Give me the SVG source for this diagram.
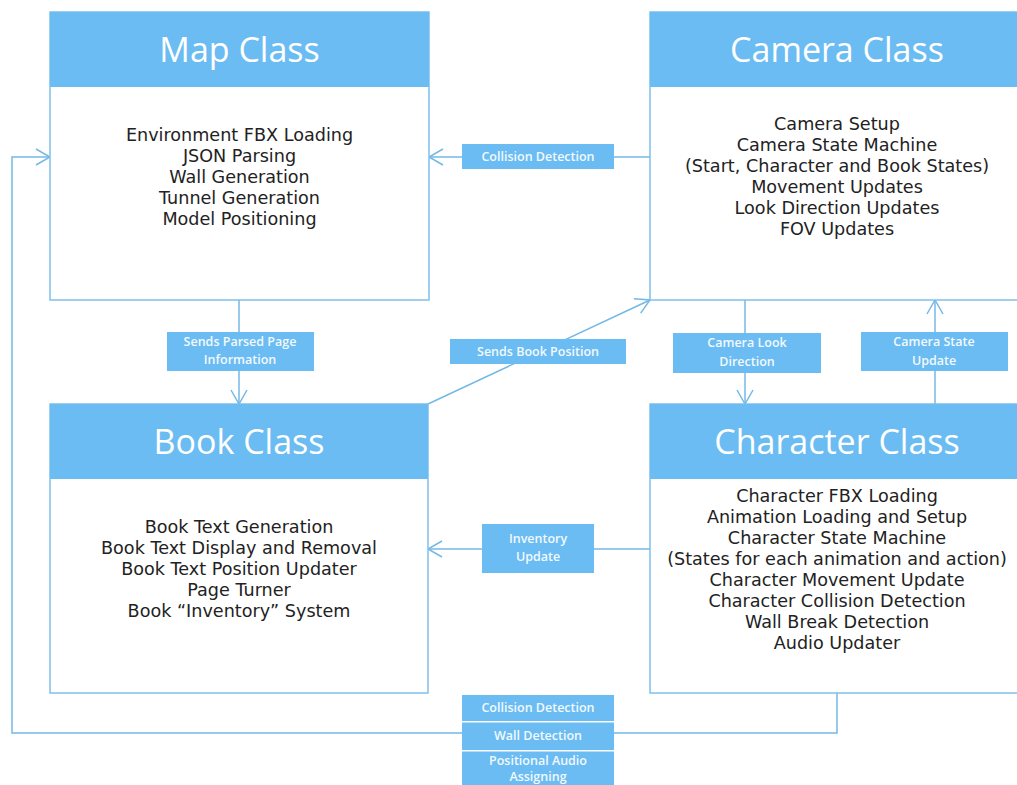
<svg xmlns="http://www.w3.org/2000/svg" width="1017" height="785" viewBox="0 0 1017 785">
<style>
.box{fill:#ffffff;stroke:#80c0ea;stroke-width:1.5}
.hdr{fill:#6bbcf2}
.title{font-family:"Open Sans","Noto Sans",sans-serif;font-size:34px;fill:#ffffff;text-anchor:middle}
.body{font-family:"DejaVu Sans","Noto Sans",sans-serif;font-size:17.6px;fill:#222222;text-anchor:middle}
.conn{fill:none;stroke:#74b8e6;stroke-width:1.5}
.lbl{fill:#6bbcf2}
.lt{font-family:"Open Sans","Noto Sans",sans-serif;font-size:12.5px;font-weight:600;fill:#f2f9ff;text-anchor:middle}
</style>
<defs>
<marker id="arr" markerUnits="userSpaceOnUse" markerWidth="18" markerHeight="18" refX="15" refY="9" orient="auto">
<path d="M1,1 L15,9 L1,17" fill="none" stroke="#74b8e6" stroke-width="1.5"/>
</marker>
</defs>
<rect width="1017" height="785" fill="#ffffff"/>
<g id="connectors">
<line class="conn" x1="614" y1="157" x2="429" y2="157" marker-end="url(#arr)"/>
<line class="conn" x1="650" y1="157" x2="614" y2="157"/>
<line class="conn" x1="239" y1="300" x2="239" y2="404" marker-end="url(#arr)"/>
<line class="conn" x1="428" y1="404" x2="650" y2="300" marker-end="url(#arr)"/>
<line class="conn" x1="745" y1="300" x2="745" y2="404" marker-end="url(#arr)"/>
<line class="conn" x1="935" y1="404" x2="935" y2="300" marker-end="url(#arr)"/>
<line class="conn" x1="650" y1="549" x2="428" y2="549" marker-end="url(#arr)"/>
<polyline class="conn" points="837,693 837,733 12,733 12,157 50,157" marker-end="url(#arr)"/>
<rect class="lbl" x="462" y="144" width="152" height="25"/>
<text class="lt" x="538" y="161">Collision Detection</text>
<rect class="lbl" x="167" y="332" width="147" height="39"/>
<text class="lt" x="240" y="346">Sends Parsed Page</text>
<text class="lt" x="240" y="364">Information</text>
<rect class="lbl" x="450" y="339" width="176" height="25"/>
<text class="lt" x="538" y="356">Sends Book Position</text>
<rect class="lbl" x="673" y="333" width="148" height="40"/>
<text class="lt" x="747" y="347">Camera Look</text>
<text class="lt" x="747" y="366">Direction</text>
<rect class="lbl" x="861" y="332" width="147" height="39"/>
<text class="lt" x="934" y="346">Camera State</text>
<text class="lt" x="934" y="365">Update</text>
<rect class="lbl" x="482" y="524" width="112" height="49"/>
<text class="lt" x="538" y="543">Inventory</text>
<text class="lt" x="538" y="561">Update</text>
<rect class="lbl" x="462" y="695" width="152" height="26"/>
<text class="lt" x="538" y="712">Collision Detection</text>
<rect class="lbl" x="462" y="722.5" width="152" height="27.5"/>
<text class="lt" x="538" y="740">Wall Detection</text>
<rect class="lbl" x="462" y="751.5" width="152" height="40"/>
<text class="lt" x="538" y="765">Positional Audio</text>
<text class="lt" x="538" y="781">Assigning</text>
</g>
<g id="map">
<rect class="box" x="50" y="12" width="379" height="288"/>
<rect class="hdr" x="50" y="12" width="379" height="75"/>
<text class="title" x="239.5" y="62">Map Class</text>
<text class="body" x="239.5" y="141">Environment FBX Loading</text>
<text class="body" x="239.5" y="162">JSON Parsing</text>
<text class="body" x="239.5" y="183">Wall Generation</text>
<text class="body" x="239.5" y="204">Tunnel Generation</text>
<text class="body" x="239.5" y="225">Model Positioning</text>
</g>
<g id="camera">
<rect class="box" x="650" y="12" width="375" height="288"/>
<rect class="hdr" x="650" y="12" width="375" height="75"/>
<text class="title" x="837" y="62">Camera Class</text>
<text class="body" x="837" y="130">Camera Setup</text>
<text class="body" x="837" y="151">Camera State Machine</text>
<text class="body" x="837" y="172">(Start, Character and Book States)</text>
<text class="body" x="837" y="193">Movement Updates</text>
<text class="body" x="837" y="214">Look Direction Updates</text>
<text class="body" x="837" y="235">FOV Updates</text>
</g>
<g id="book">
<rect class="box" x="50" y="404" width="378" height="289"/>
<rect class="hdr" x="50" y="404" width="378" height="75"/>
<text class="title" x="239" y="454">Book Class</text>
<text class="body" x="239" y="533">Book Text Generation</text>
<text class="body" x="239" y="554">Book Text Display and Removal</text>
<text class="body" x="239" y="575">Book Text Position Updater</text>
<text class="body" x="239" y="596">Page Turner</text>
<text class="body" x="239" y="617">Book “Inventory” System</text>
</g>
<g id="character">
<rect class="box" x="650" y="404" width="375" height="289"/>
<rect class="hdr" x="650" y="404" width="375" height="75"/>
<text class="title" x="837" y="454">Character Class</text>
<text class="body" x="837" y="502">Character FBX Loading</text>
<text class="body" x="837" y="523">Animation Loading and Setup</text>
<text class="body" x="837" y="544">Character State Machine</text>
<text class="body" x="837" y="565">(States for each animation and action)</text>
<text class="body" x="837" y="586">Character Movement Update</text>
<text class="body" x="837" y="607">Character Collision Detection</text>
<text class="body" x="837" y="628">Wall Break Detection</text>
<text class="body" x="837" y="649">Audio Updater</text>
</g>
</svg>
